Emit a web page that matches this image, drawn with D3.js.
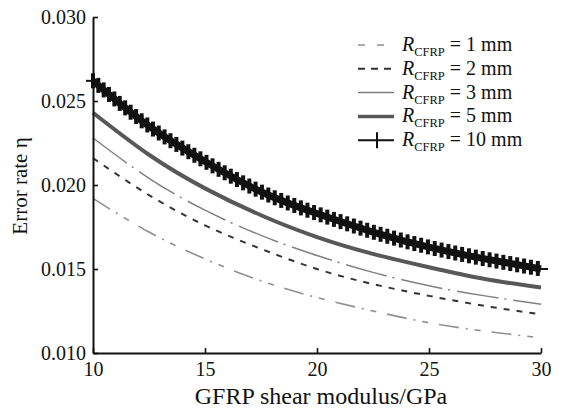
<!DOCTYPE html>
<html>
<head>
<meta charset="utf-8">
<script src="https://cdn.jsdelivr.net/npm/d3@7"></script>
<style>
  body { margin: 0; background: #fff; }
  text { font-family: "Liberation Serif", "Times New Roman", serif; }
</style>
</head>
<body>
<div id="canvas"></div>
<script>
const width = 567, height = 411;
const margin = { left: 93, right: 26, top: 17, bottom: 58 };

// shear modulus sample points (GPa)
const modulus = [10, 12.5, 15, 17.5, 20, 22.5, 25, 27.5, 30];
// error rate per CFRP radius
const r1 = [0.0192, 0.0172, 0.0156, 0.0143, 0.0133, 0.0125, 0.0118, 0.0113, 0.0109];
const r2 = [0.0216, 0.0194, 0.0176, 0.0162, 0.0150, 0.0141, 0.0134, 0.0128, 0.0123];
const r3 = [0.0228, 0.0204, 0.0185, 0.0170, 0.0158, 0.0148, 0.0140, 0.0134, 0.0129];
const r5 = [0.0243, 0.0218, 0.0198, 0.0182, 0.0169, 0.0159, 0.0151, 0.0144, 0.0139];
const r10 = [0.0262, 0.0235, 0.0214, 0.0196, 0.0183, 0.0172, 0.0163, 0.0156, 0.0150];
const radii = ["1", "2", "3", "5", "10"];
const xTicks = [10, 15, 20, 25, 30];
const yTicks = [0.010, 0.015, 0.020, 0.025, 0.030];

const series = [r1, r2, r3, r5, r10];
// styles: colour, width, dash on curve, dash in legend
const styles = [
    { color: "#8f8f8f", w: 1.6, dash: "20,7,2,7,6,11", legDash: "7,12" },
    { color: "#333", w: 2, dash: "6,7", legDash: "7,6" },
    { color: "#808080", w: 1.5, dash: "42,6,2,7", legDash: null },
    { color: "#585858", w: 4, dash: null, legDash: null },
    { color: "#111", w: 7, dash: null, legDash: null, plus: true }
];

const xScale = d3.scaleLinear().domain([10, 30]).range([margin.left, width - margin.right]);
const yScale = d3.scaleLinear().domain([0.010, 0.030]).range([height - margin.bottom, margin.top]);

const svg = d3.select("#canvas")
    .append("svg")
    .attr("width", width)
    .attr("height", height)
    .style("background-color", "#fff");

const line = d3.line()
    .x((d, i) => xScale(modulus[i]))
    .y(d => yScale(d))
    .curve(d3.curveNatural);

// curves
series.forEach((vals, k) => {
    const s = styles[k];
    const path = svg.append("path")
        .datum(vals)
        .attr("d", line)
        .attr("fill", "none")
        .attr("stroke", s.color)
        .attr("stroke-width", s.w)
        .attr("stroke-dasharray", s.dash);

    if (s.plus) {
        // dense + markers along the curve
        const node = path.node();
        const len = node.getTotalLength();
        const g = svg.append("g").attr("stroke", s.color);
        for (let l = 0; l <= len; l += 7) {
            const p = node.getPointAtLength(l);
            g.append("line")
                .attr("x1", p.x).attr("x2", p.x)
                .attr("y1", p.y - 7.5).attr("y2", p.y + 7.5)
                .attr("stroke-width", 4);
        }
        const p0 = node.getPointAtLength(0), p1 = node.getPointAtLength(len);
        g.append("line").attr("x1", p0.x - 7).attr("x2", p0.x + 6)
            .attr("y1", p0.y).attr("y2", p0.y).attr("stroke-width", 2);
        g.append("line").attr("x1", p1.x - 6).attr("x2", p1.x + 7)
            .attr("y1", p1.y).attr("y2", p1.y).attr("stroke-width", 2);
    }
});

// axes
const xAxis = svg.append("g")
    .attr("transform", `translate(0,${height - margin.bottom})`)
    .call(d3.axisBottom(xScale).tickValues(xTicks).tickSizeInner(-5).tickSizeOuter(0).tickPadding(9));
const yAxis = svg.append("g")
    .attr("transform", `translate(${margin.left},0)`)
    .call(d3.axisLeft(yScale).tickValues(yTicks).tickFormat(d3.format(".3f")).tickSizeInner(-5).tickSizeOuter(0).tickPadding(7));

[xAxis, yAxis].forEach(a => {
    a.select(".domain").attr("stroke", "#111").attr("stroke-width", 2);
    a.selectAll(".tick line").attr("stroke", "#111").attr("stroke-width", 1.6);
    a.selectAll(".tick text").attr("fill", "#111").style("font-size", "20px")
        .style("font-family", "Liberation Serif, serif");
});
xAxis.selectAll(".tick text").attr("dy", "0.72em");

svg.append("text")
    .attr("x", 321)
    .attr("y", 404)
    .attr("text-anchor", "middle")
    .style("font-size", "24px")
    .attr("fill", "#111")
    .text("GFRP shear modulus/GPa");

svg.append("text")
    .attr("transform", "translate(27,186) rotate(-90)")
    .attr("text-anchor", "middle")
    .style("font-size", "21px")
    .attr("fill", "#111")
    .text("Error rate η");

// legend
const legend = svg.append("g");
radii.forEach((r, k) => {
    const s = styles[k];
    const y = 45 + k * 23.8;
    legend.append("line")
        .attr("x1", 358).attr("x2", 394)
        .attr("y1", y).attr("y2", y)
        .attr("stroke", s.color)
        .attr("stroke-width", s.plus ? 2 : Math.min(s.w, 3.5))
        .attr("stroke-dasharray", s.legDash);
    if (s.plus) {
        legend.append("line")
            .attr("x1", 377).attr("x2", 377)
            .attr("y1", y - 8).attr("y2", y + 8)
            .attr("stroke", s.color).attr("stroke-width", 2);
    }
    const t = legend.append("text")
        .attr("x", 402)
        .attr("y", y + 6)
        .style("font-size", "20px")
        .attr("fill", "#111");
    t.append("tspan").style("font-style", "italic").text("R");
    t.append("tspan").attr("dy", 5).style("font-size", "12.5px").text("CFRP");
    t.append("tspan").attr("dy", -5).text(` = ${r} mm`);
});
</script>
</body>
</html>
